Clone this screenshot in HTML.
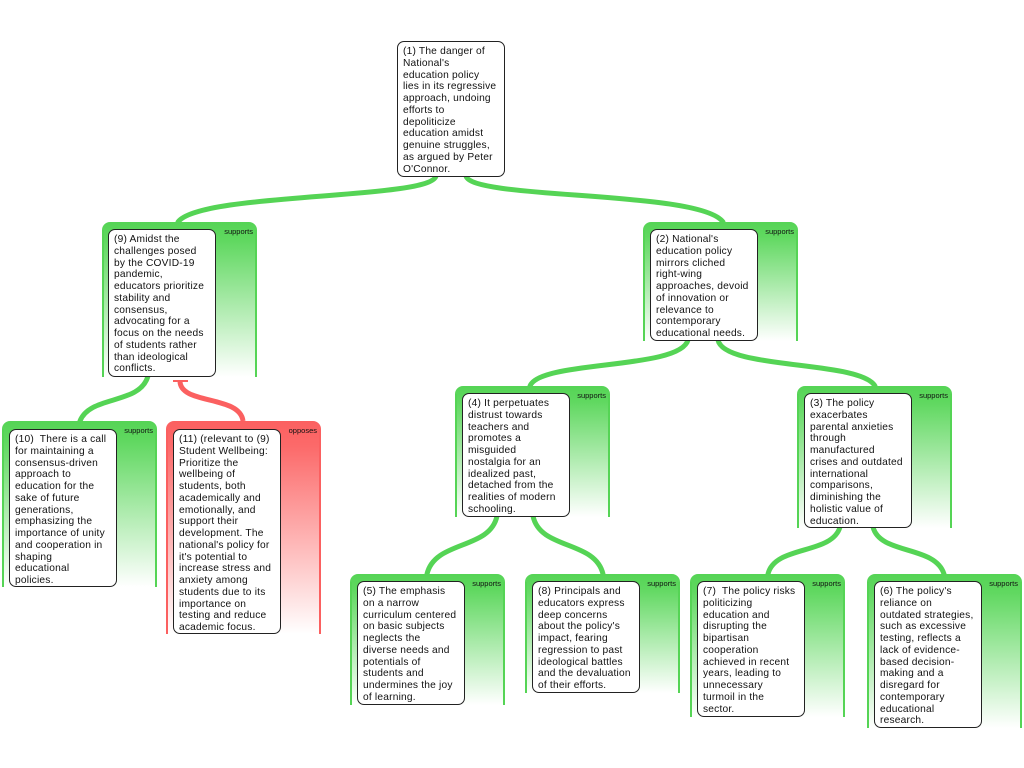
<!DOCTYPE html>
<html><head><meta charset="utf-8"><style>
body{margin:0;width:1024px;height:768px;background:#fff;position:relative;overflow:hidden;font-family:"Liberation Sans",Arial,sans-serif}
.p{position:absolute;width:155px;border-radius:8px 8px 0 0;background:linear-gradient(#55d455 0%,#60d860 12%,#fff 100%);}
.p.r{background:linear-gradient(#fb6060 0%,#fc6a6a 12%,#fff 100%);}
.p::before{content:"";position:absolute;left:0;top:8px;bottom:0;width:2px;background:#55d455}
.p::after{content:"";position:absolute;right:0;top:8px;bottom:0;width:2px;background:#55d455}
.p.r::before,.p.r::after{background:#fb6060}
.l{position:absolute;right:4px;top:5px;font-size:7.5px;color:#111}
.b{position:absolute;width:108px;background:#fff;border:1px solid #222;border-radius:7px;font-size:10.2px;line-height:11.75px;color:#111;padding:4px 0 0 5px;box-sizing:border-box;white-space:nowrap;letter-spacing:0.2px}
svg{position:absolute;left:0;top:0}
</style></head><body>
<svg width="1024" height="768">
<g fill="none" stroke="#55d455" stroke-width="5" stroke-linecap="round">
<path d="M436,176 C430,200 200,192 178,222"/>
<path d="M466,176 C472,200 700,190 723,222"/>
<path d="M688,340 C680,370 540,360 530,386"/>
<path d="M718,340 C724,370 860,360 875,386"/>
<path d="M148,376 C140,405 90,395 80,421"/>
<path d="M497,516 C490,550 435,540 427,574"/>
<path d="M533,516 C540,550 595,540 603,574"/>
<path d="M840,527 C832,555 775,545 768,574"/>
<path d="M873,527 C880,555 935,545 944,574"/>
</g>
<path d="M180,381 C180,405 240,395 243,421" fill="none" stroke="#fb6060" stroke-width="5"/>
<line x1="173" y1="381" x2="188" y2="381" stroke="#fb6060" stroke-width="2"/>
</svg>

<div class="b" style="left:397px;top:41px;height:136px">(1) The danger of<br>National's<br>education policy<br>lies in its regressive<br>approach, undoing<br>efforts to<br>depoliticize<br>education amidst<br>genuine struggles,<br>as argued by Peter<br>O'Connor.</div>

<div class="p" style="left:102px;top:222px;height:155px"><span class="l">supports</span></div>
<div class="b" style="left:108px;top:229px;height:148px">(9) Amidst the<br>challenges posed<br>by the COVID-19<br>pandemic,<br>educators prioritize<br>stability and<br>consensus,<br>advocating for a<br>focus on the needs<br>of students rather<br>than ideological<br>conflicts.</div>

<div class="p" style="left:643px;top:222px;height:119px"><span class="l">supports</span></div>
<div class="b" style="left:650px;top:229px;height:112px">(2) National's<br>education policy<br>mirrors cliched<br>right-wing<br>approaches, devoid<br>of innovation or<br>relevance to<br>contemporary<br>educational needs.</div>

<div class="p" style="left:2px;top:421px;height:166px"><span class="l">supports</span></div>
<div class="b" style="left:9px;top:429px;height:158px">(10)&nbsp; There is a call<br>for maintaining a<br>consensus-driven<br>approach to<br>education for the<br>sake of future<br>generations,<br>emphasizing the<br>importance of unity<br>and cooperation in<br>shaping<br>educational<br>policies.</div>

<div class="p r" style="left:166px;top:421px;height:213px"><span class="l">opposes</span></div>
<div class="b" style="left:173px;top:429px;height:205px">(11) (relevant to (9)<br>Student Wellbeing:<br>Prioritize the<br>wellbeing of<br>students, both<br>academically and<br>emotionally, and<br>support their<br>development. The<br>national's policy for<br>it's potential to<br>increase stress and<br>anxiety among<br>students due to its<br>importance on<br>testing and reduce<br>academic focus.</div>

<div class="p" style="left:455px;top:386px;height:131px"><span class="l">supports</span></div>
<div class="b" style="left:462px;top:393px;height:124px">(4) It perpetuates<br>distrust towards<br>teachers and<br>promotes a<br>misguided<br>nostalgia for an<br>idealized past,<br>detached from the<br>realities of modern<br>schooling.</div>

<div class="p" style="left:797px;top:386px;height:142px"><span class="l">supports</span></div>
<div class="b" style="left:804px;top:393px;height:135px">(3) The policy<br>exacerbates<br>parental anxieties<br>through<br>manufactured<br>crises and outdated<br>international<br>comparisons,<br>diminishing the<br>holistic value of<br>education.</div>

<div class="p" style="left:350px;top:574px;height:131px"><span class="l">supports</span></div>
<div class="b" style="left:357px;top:581px;height:124px">(5) The emphasis<br>on a narrow<br>curriculum centered<br>on basic subjects<br>neglects the<br>diverse needs and<br>potentials of<br>students and<br>undermines the joy<br>of learning.</div>

<div class="p" style="left:525px;top:574px;height:119px"><span class="l">supports</span></div>
<div class="b" style="left:532px;top:581px;height:112px">(8) Principals and<br>educators express<br>deep concerns<br>about the policy's<br>impact, fearing<br>regression to past<br>ideological battles<br>and the devaluation<br>of their efforts.</div>

<div class="p" style="left:690px;top:574px;height:143px"><span class="l">supports</span></div>
<div class="b" style="left:697px;top:581px;height:136px">(7)&nbsp; The policy risks<br>politicizing<br>education and<br>disrupting the<br>bipartisan<br>cooperation<br>achieved in recent<br>years, leading to<br>unnecessary<br>turmoil in the<br>sector.</div>

<div class="p" style="left:867px;top:574px;height:154px"><span class="l">supports</span></div>
<div class="b" style="left:874px;top:581px;height:147px">(6) The policy's<br>reliance on<br>outdated strategies,<br>such as excessive<br>testing, reflects a<br>lack of evidence-<br>based decision-<br>making and a<br>disregard for<br>contemporary<br>educational<br>research.</div>
</body></html>
